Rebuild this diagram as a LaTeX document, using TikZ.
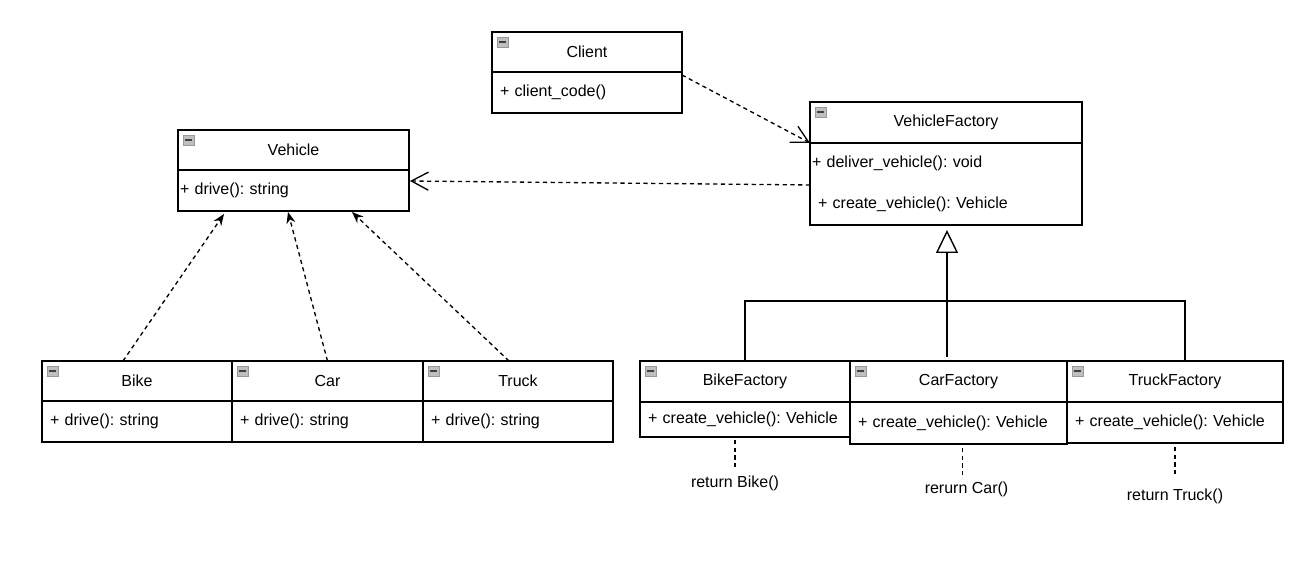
\documentclass[tikz,border=0pt]{standalone}
\usepackage{fontspec}
\setmainfont{Liberation Sans}
\frenchspacing
\usetikzlibrary{calc,positioning,arrows.meta,shapes}

\begin{document}
\begin{tikzpicture}
[x=0.02cm,y=-0.02cm,
every node/.style={font=\fontsize{9.1}{10.8}\selectfont},
head/.style={rectangle, draw=black, line width=0.8pt, outer sep=0pt,
minimum height=0.8cm, inner sep=0pt},
body/.style={rectangle, draw=black, line width=0.8pt, outer sep=0pt,
minimum height=0.82cm, inner xsep=0.16cm, inner ysep=0pt, align=left},
icon/.style={fill=gray!50, draw=gray!80, line width=0.5pt},
dep/.style={dash pattern=on 2.4pt off 2pt, line width=0.75pt},
openhead/.style={-{Straight Barb[length=3.4mm,width=3.6mm]}},
fillhead/.style={-{Stealth[length=2.3mm,width=1.8mm]}}]
\useasboundingbox (0,0) rectangle (1296,563);

\node[head, minimum width=3.8cm] (client) at (587,52) {Client};
\node[body, below=0pt of client, text width=3.48cm] (clientb) {+ client\_code()};
\node[head, minimum width=5.44cm, minimum height=0.82cm] (vfac) at (946,122.5) {VehicleFactory};
\node[body, below=0pt of vfac, text width=5.36cm, inner xsep=0.04cm, minimum height=1.64cm]
  (vfacb) {+ deliver\_vehicle(): void\\[0.44cm]\hspace{0.12cm}+ create\_vehicle(): Vehicle};
\node[head, minimum width=4.62cm] (vehicle) at (293.5,150) {Vehicle};
\node[body, below=0pt of vehicle, text width=4.54cm, inner xsep=0.04cm] (vehicleb) {+ drive(): string};

\node[head, minimum width=3.8cm] (bike) at (137,381) {Bike};
\node[body, below=0pt of bike, text width=3.48cm] (bikeb) {+ drive(): string};
\node[head, minimum width=3.82cm] (car) at (327.5,381) {Car};
\node[body, below=0pt of car, text width=3.5cm] (carb) {+ drive(): string};
\node[head, minimum width=3.8cm] (truck) at (518,381) {Truck};
\node[body, below=0pt of truck, text width=3.48cm] (truckb) {+ drive(): string};

\node[head, minimum width=4.2cm, minimum height=0.82cm] (bikefac) at (745,381.5) {BikeFactory};
\node[body, below=0pt of bikefac, text width=3.88cm, minimum height=0.7cm] (bikefacb) {+ create\_vehicle(): Vehicle};
\node[head, minimum width=4.34cm, minimum height=0.82cm] (carfac) at (958.5,381.5) {CarFactory};
\node[body, below=0pt of carfac, text width=4.02cm, minimum height=0.84cm] (carfacb) {+ create\_vehicle(): Vehicle};
\node[head, minimum width=4.32cm, minimum height=0.82cm] (truckfac) at (1175,381.5) {TruckFactory};
\node[body, below=0pt of truckfac, text width=4cm] (truckfacb) {+ create\_vehicle(): Vehicle};

\node (retbike) at ($(bikefacb.south)+(-10,46)$) {return Bike()};
\node (retcar) at ($(carfacb.south)+(8,45)$) {rerurn Car()};
\node (rettruck) at ($(truckfacb.south)+(0,53)$) {return Truck()};

% collapse icons
\foreach \n in {client,vfac,vehicle,bike,car,truck,bikefac,carfac,truckfac}{
  \draw[icon] ($(\n.north west)+(5,5)$) rectangle ++(11,10);
  \draw[black!75, line width=0.8pt] ($(\n.north west)+(7,10)$) -- ++(7,0);
}

\draw[dep, openhead] ($(clientb.north east)+(0,3)$) -- (vfacb.north west);
\draw[dep, openhead] ($(vfacb.west)+(0,1)$) -- ($(vehicleb.north east)+(1,11)$);
\draw[dep, fillhead] ($(bike.north)+(-14,0)$) -- ($(vehicleb.south)+(-69.5,3)$);
\draw[dep, fillhead] (car.north) -- ($(vehicleb.south)+(-5.5,1)$);
\draw[dep, fillhead] ($(truck.north)+(-9,0)$) -- ($(vehicleb.south)+(58.5,1)$);

% inheritance
\coordinate (join) at ($(vfacb.south)+(1,76)$);
\draw[line width=0.8pt, -{Triangle[open,length=0.46cm,width=0.44cm]}] (join) -- ($(vfacb.south)+(1,5)$);
\draw[line width=0.8pt] (bikefac.north) |- (join);
\draw[line width=0.8pt] ($(truckfac.north)+(10,0)$) |- (join);
\draw[line width=0.8pt] (join) -- ++(0,56);

\draw[dep] ($(bikefacb.south)+(-10,3)$) -- ++(0,30);
\draw[dep] ($(carfacb.south)+(4,4)$) -- ++(0,27);
\draw[dep] ($(truckfacb.south)+(0,4)$) -- ++(0,28);
\end{tikzpicture}
\end{document}
